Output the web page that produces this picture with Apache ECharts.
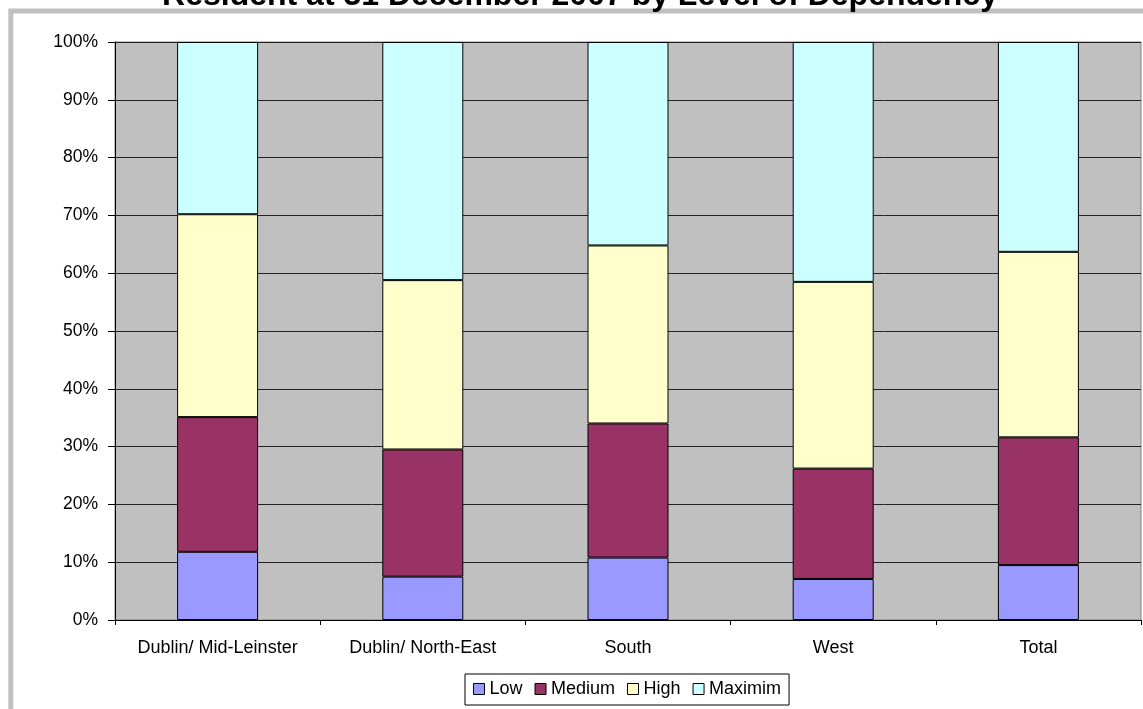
<!DOCTYPE html>
<html>
<head>
<meta charset="utf-8">
<script src="https://cdn.jsdelivr.net/npm/echarts@6/dist/echarts.min.js"></script>
<style>
  html, body { margin: 0; padding: 0; background: #fff; }
  #chart { width: 1143px; height: 709px; }
</style>
</head>
<body>
<div id="chart"></div>
<script>
// values (percent of residents per region)
var categories = ['Dublin/ Mid-Leinster', 'Dublin/ North-East', 'South', 'West', 'Total'];
var lowData = [11.8, 7.5, 10.8, 7.1, 9.5];
var mediumData = [23.3, 22.0, 23.2, 19.1, 22.1];
var highData = [35.1, 29.3, 30.8, 32.3, 32.1];
var maxData = [29.8, 41.2, 35.2, 41.5, 36.3];
var seriesNames = ['Low', 'Medium', 'High', 'Maximim'];
var seriesColors = ['#9999ff', '#993366', '#ffffcc', '#ccffff'];

var chart = echarts.init(document.getElementById('chart'));
var font = 'Liberation Sans, Arial, sans-serif';

function makeSeries(i, data) {
    return {
        name: seriesNames[i],
        type: 'bar',
        stack: 'total',
        barWidth: 81,
        data: data,
        itemStyle: {
            color: seriesColors[i],
            borderColor: '#000',
            borderWidth: 1
        }
    };
}

var option = {
    animation: false,
    backgroundColor: '#fff',
    textStyle: { fontFamily: font },
    graphic: [
        {
            type: 'rect',
            silent: true,
            shape: { x: 10.8, y: 11, width: 1300, height: 900 },
            style: { fill: 'none', stroke: '#c0c0c0', lineWidth: 5 }
        },
        {
            // title is cut off at the top edge in the original
            type: 'text',
            silent: true,
            style: {
                text: 'Resident at 31 December 2007 by Level of Dependency',
                x: 580,
                y: 12,
                align: 'center',
                verticalAlign: 'bottom',
                fill: '#000',
                font: 'bold 32px ' + font
            }
        }
    ],
    legend: {
        data: seriesNames,
        left: 465,
        top: 674,
        orient: 'horizontal',
        padding: [6, 8, 7, 8],
        borderColor: '#000',
        borderWidth: 1,
        itemGap: 12,
        itemWidth: 11,
        itemHeight: 11,
        icon: 'rect',
        itemStyle: { borderColor: '#000', borderWidth: 1 },
        textStyle: { fontSize: 18, color: '#000', fontFamily: font }
    },
    grid: {
        left: 115,
        right: 2,
        top: 42,
        bottom: 89,
        show: true,
        backgroundColor: '#c0c0c0',
        borderColor: '#808080',
        borderWidth: 1
    },
    xAxis: {
        type: 'category',
        data: categories,
        axisLine: { lineStyle: { color: '#000', width: 1 } },
        axisTick: { show: true, interval: 0, length: 5, lineStyle: { color: '#000' } },
        axisLabel: { interval: 0, hideOverlap: false, fontSize: 18, color: '#000', margin: 19, fontFamily: font }
    },
    yAxis: {
        type: 'value',
        min: 0,
        max: 100,
        interval: 10,
        axisLine: { show: true, lineStyle: { color: '#000', width: 1 } },
        axisTick: { show: true, length: 7, lineStyle: { color: '#000' } },
        axisLabel: { formatter: '{value}%', fontSize: 17.5, color: '#000', margin: 17, fontFamily: font },
        splitLine: { show: true, lineStyle: { color: '#222', width: 1 } }
    },
    series: [
        makeSeries(0, lowData),
        makeSeries(1, mediumData),
        makeSeries(2, highData),
        makeSeries(3, maxData)
    ]
};

chart.setOption(option);
</script>
</body>
</html>
